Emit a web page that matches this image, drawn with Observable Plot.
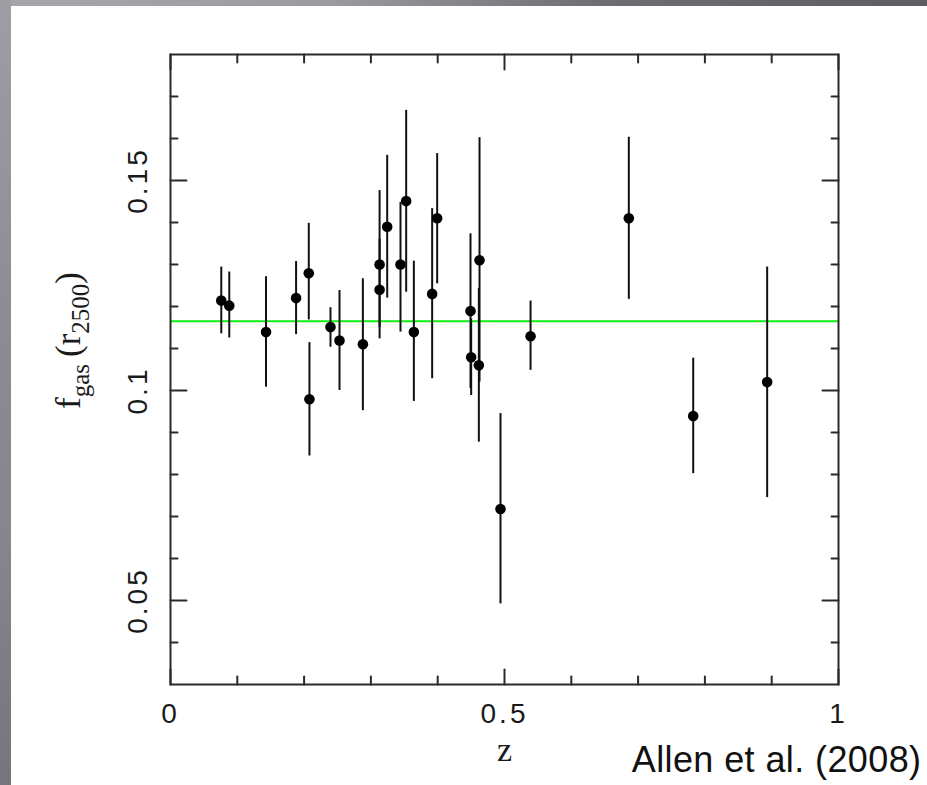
<!DOCTYPE html>
<html>
<head>
<meta charset="utf-8">
<script src="https://cdn.jsdelivr.net/npm/d3@7"></script>
<script src="https://cdn.jsdelivr.net/npm/@observablehq/plot@0.6"></script>
<style>
  body { margin: 0; background: #fff; }
  #wrap { position: relative; width: 927px; height: 785px; overflow: hidden; background: #fff; }
  #topbar { position: absolute; left: 0; top: 0; width: 927px; height: 6px;
    background: linear-gradient(90deg, #a9a5ad 0%, #9e9aa2 35%, #6f6d73 65%, #5f5d63 100%); }
  #leftbar { position: absolute; left: 0; top: 0; width: 11px; height: 785px;
    background: linear-gradient(180deg, #a19da5 0%, #8e8b93 40%, #86848c 70%, #77757c 100%); }
  #chart { position: absolute; left: 0; top: 0; }
</style>
</head>
<body>
<div id="wrap"><div id="topbar"></div><div id="leftbar"></div><div id="chart"></div></div>
<script>
// Redshift z of each cluster
const z    = [0.076, 0.088, 0.143, 0.188, 0.207, 0.208, 0.2395, 0.253, 0.288, 0.313, 0.313, 0.3244, 0.3443, 0.3528, 0.3643, 0.3917, 0.3992, 0.4491, 0.4501, 0.4616, 0.4626, 0.494, 0.539, 0.6861, 0.7825, 0.8932];
// Gas mass fraction f_gas(r2500)
const fgas = [0.1214, 0.1202, 0.1139, 0.1220, 0.1279, 0.0979, 0.1151, 0.1119, 0.1110, 0.1240, 0.1300, 0.1390, 0.1300, 0.1451, 0.1139, 0.1230, 0.1410, 0.1189, 0.1079, 0.1060, 0.1310, 0.0718, 0.1129, 0.1410, 0.0939, 0.1020];
// Error bar lower / upper ends
const fLo  = [0.1135, 0.1125, 0.1008, 0.1133, 0.1168, 0.0844, 0.1103, 0.1000, 0.0952, 0.1123, 0.1150, 0.1220, 0.1139, 0.1234, 0.0974, 0.1028, 0.1254, 0.1005, 0.0988, 0.0877, 0.1020, 0.0492, 0.1048, 0.1217, 0.0802, 0.0745];
const fHi  = [0.1294, 0.1282, 0.1271, 0.1307, 0.1398, 0.1114, 0.1197, 0.1238, 0.1266, 0.1360, 0.1476, 0.1560, 0.1448, 0.1667, 0.1308, 0.1433, 0.1564, 0.1373, 0.1170, 0.1243, 0.1602, 0.0945, 0.1213, 0.1603, 0.1077, 0.1294];
// Mean (best-fit constant) value
const fitValue = [0.1165];

const xMajor = [0, 0.5, 1];
const xMinor = [0.1, 0.2, 0.3, 0.4, 0.6, 0.7, 0.8, 0.9];
const yMajor = [0.05, 0.1, 0.15];
const yMinor = [0.04, 0.06, 0.07, 0.08, 0.09, 0.11, 0.12, 0.13, 0.14, 0.16, 0.17];
const xTickLabels = ["0", "0.5", "1"];
const yTickLabels = ["0.05", "0.1", "0.15"];
const xLabel = ["z"];
const yLabel = ["f gas (r 2500)"];
const caption = ["Allen et al. (2008)"];

const data = z.map((d, i) => ({z: d, f: fgas[i], lo: fLo[i], hi: fHi[i]}));

const lineShape = { draw(context, l) { context.moveTo(0, 0); context.lineTo(0, -l); } };
const tk = {shape: lineShape, anchor: "start", stroke: "#2a2a2a", strokeWidth: 2};

const plot = Plot.plot({
  width: 927,
  height: 785,
  marginLeft: 170,
  marginRight: 89,
  marginTop: 54,
  marginBottom: 101,
  x: {domain: [0, 1], axis: null},
  y: {domain: [0.03, 0.18], axis: null},
  style: {background: "transparent", overflow: "visible"},
  marks: [
    Plot.ruleY(fitValue, {y: d => d, stroke: "#10ee10", strokeWidth: 2}),
    Plot.ruleX(data, {x: "z", y1: "lo", y2: "hi", stroke: "#111", strokeWidth: 2}),
    Plot.dot(data, {x: "z", y: "f", r: 5.3, fill: "#000", stroke: "none"}),
    // inward ticks on all four sides
    Plot.vector(xMajor, {...tk, x: d => d, frameAnchor: "bottom", length: 15, rotate: 0}),
    Plot.vector(xMinor, {...tk, x: d => d, frameAnchor: "bottom", length: 8, rotate: 0}),
    Plot.vector(xMajor, {...tk, x: d => d, frameAnchor: "top", length: 15, rotate: 180}),
    Plot.vector(xMinor, {...tk, x: d => d, frameAnchor: "top", length: 8, rotate: 180}),
    Plot.vector(yMajor, {...tk, y: d => d, frameAnchor: "left", length: 16, rotate: 90}),
    Plot.vector(yMinor, {...tk, y: d => d, frameAnchor: "left", length: 7, rotate: 90}),
    Plot.vector(yMajor, {...tk, y: d => d, frameAnchor: "right", length: 16, rotate: -90}),
    Plot.vector(yMinor, {...tk, y: d => d, frameAnchor: "right", length: 7, rotate: -90}),
    Plot.frame({stroke: "#2a2a2a", strokeWidth: 2}),
    // tick labels
    Plot.text(xMajor, {x: d => d, text: (d, i) => xTickLabels[i], frameAnchor: "bottom", dy: 30,
      textAnchor: "middle", lineAnchor: "middle", fontSize: 28, fontFamily: "Liberation Sans", fill: "#1a1a1a"}),
    Plot.text(yMajor, {y: d => d, text: (d, i) => yTickLabels[i], frameAnchor: "left", dx: -32, rotate: -90,
      textAnchor: "middle", lineAnchor: "middle", fontSize: 28, fontFamily: "Liberation Sans", fill: "#1a1a1a"}),
    // axis labels
    Plot.text(xLabel, {frameAnchor: "bottom", dy: 66, textAnchor: "middle", lineAnchor: "middle", fontSize: 34,
      fontFamily: "Liberation Serif", fill: "#1a1a1a"}),
    Plot.text(yLabel, {frameAnchor: "left", dx: -102, dy: -29, rotate: -90, textAnchor: "middle",
      lineAnchor: "middle", fontSize: 35, fontFamily: "Liberation Serif", fill: "#1a1a1a"}),
    // caption
    Plot.text(caption, {frameAnchor: "bottom-right", dx: 83, dy: 87, textAnchor: "end", lineAnchor: "bottom",
      fontSize: 36, fontFamily: "Liberation Sans", fill: "#111"})
  ]
});

const texts = d3.select(plot).selectAll("text");
// letter spacing for tick labels and caption
texts.filter(function () { return xTickLabels.includes(this.textContent) || yTickLabels.includes(this.textContent); })
  .attr("letter-spacing", "3px");
texts.filter(function () { return this.textContent === caption[0]; }).attr("letter-spacing", "0.4px");

// y label with subscripts
const yl = texts.filter(function () { return this.textContent === yLabel[0]; });
yl.text(null);
yl.append("tspan").text("f");
yl.append("tspan").attr("font-size", 25).attr("dy", 9).text("gas");
yl.append("tspan").attr("dy", -9).text("\u2009(r");
yl.append("tspan").attr("font-size", 25).attr("dy", 9).text("2500");
yl.append("tspan").attr("dy", -9).text(")");

document.getElementById("chart").appendChild(plot);
</script>
</body>
</html>
